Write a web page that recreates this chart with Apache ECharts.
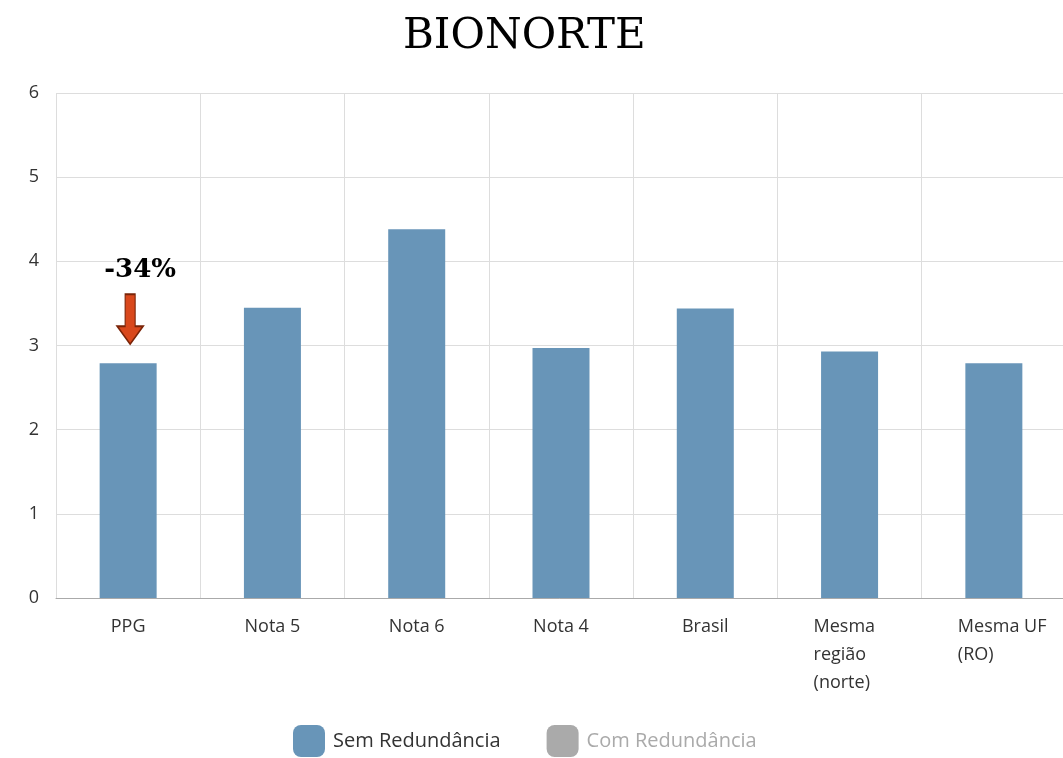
<!DOCTYPE html>
<html lang="pt">
<head>
	<meta charset="UTF-8">
	<title>BIONORTE</title>
	<script src="https://cdn.jsdelivr.net/npm/echarts@6/dist/echarts.min.js"></script>
	<style>
		html, body { margin: 0; padding: 0; background: #fff; }
		#chart { width: 1063px; height: 758px; }
	</style>
</head>
<body>
<div id="chart"></div>
<script>
	// dados
	var categorias = ['PPG', 'Nota 5', 'Nota 6', 'Nota 4', 'Brasil', 'Mesma\nregião\n(norte)', 'Mesma UF\n(RO)'];
	var semRedundancia = [2.79, 3.45, 4.38, 2.97, 3.44, 2.93, 2.79];
	var comRedundancia = [];
	var yTicks = [0, 1, 2, 3, 4, 5, 6];
	var destaque = { categoria: 'PPG', texto: '-34%' };

	var myChart = echarts.init(document.getElementById('chart'));
	var option = {
		backgroundColor: '#fff',
		title: {
			text: 'BIONORTE',
			left: 398,
			top: 11,
			textStyle: { fontFamily: 'DejaVu Serif', fontSize: 42, fontWeight: 'normal', color: '#000' }
		},
		legend: {
			top: 720,
			left: 288,
			itemWidth: 32,
			itemHeight: 32,
			itemGap: 46,
			inactiveColor: '#aaa',
			selected: { 'Com Redundância': false },
			textStyle: { fontFamily: 'Open Sans', fontSize: 20, color: '#333', padding: [0, 0, 0, 3] },
			data: [
				{ name: 'Sem Redundância', icon: 'roundRect' },
				{ name: 'Com Redundância', icon: 'roundRect' }
			]
		},
		grid: { left: 56, width: 1010, top: 93, bottom: 160, outerBoundsMode: 'none' },
		xAxis: {
			type: 'category',
			data: categorias,
			axisTick: { show: false },
			axisLine: { lineStyle: { color: '#aaa' } },
			splitLine: { show: true, interval: 0, lineStyle: { color: '#ddd' } },
			axisLabel: {
				interval: 0,
				hideOverlap: false,
				margin: 15,
				color: '#333',
				fontFamily: 'Open Sans',
				fontSize: 18,
				lineHeight: 28,
				formatter: function (v) {
					if (v.indexOf('\n') < 0) return v;
					return v.split('\n').map(function (s) { return '{l|' + s + '}'; }).join('\n');
				},
				rich: { l: { width: 72, align: 'left', fontFamily: 'Open Sans', fontSize: 18, lineHeight: 28, color: '#333' } }
			}
		},
		yAxis: {
			type: 'value',
			min: yTicks[0],
			max: yTicks[yTicks.length - 1],
			interval: 1,
			axisLine: { show: false },
			axisTick: { show: false },
			splitLine: { lineStyle: { color: '#ddd' } },
			axisLabel: { margin: 17, color: '#333', fontFamily: 'Open Sans', fontSize: 18 }
		},
		series: [
			{
				name: 'Sem Redundância',
				type: 'bar',
				barWidth: 57,
				barGap: '-100%',
				itemStyle: { color: '#6895b8' },
				data: semRedundancia,
				markPoint: {
					silent: true,
					data: [
						{
							coord: [destaque.categoria, semRedundancia[0]],
							symbol: 'path://M8,0 L18,0 L18,32 L26,32 L13,50 L0,32 L8,32 Z',
							symbolSize: [26, 50],
							symbolOffset: [2, -44],
							itemStyle: { color: '#d9481c', borderColor: '#7a2408', borderWidth: 1.5 },
							label: { show: false }
						},
						{
							coord: [destaque.categoria, semRedundancia[0]],
							symbol: 'rect',
							symbolSize: 1,
							symbolOffset: [12, -93],
							itemStyle: { color: 'transparent' },
							label: {
								show: true,
								formatter: destaque.texto,
								position: 'inside',
								fontFamily: 'DejaVu Serif',
								fontWeight: 'bold',
								fontSize: 26,
								color: '#000'
							}
						}
					]
				}
			},
			{
				name: 'Com Redundância',
				type: 'bar',
				barWidth: 57,
				itemStyle: { color: '#aaa' },
				data: comRedundancia
			}
		]
	};
	myChart.setOption(option);
</script>
</body>
</html>
